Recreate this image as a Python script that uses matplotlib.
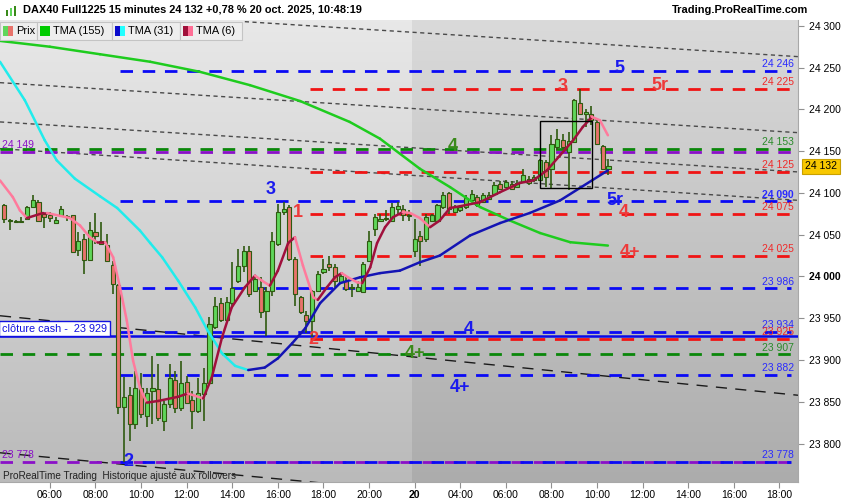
import numpy as np
import matplotlib.pyplot as plt
from matplotlib.collections import LineCollection
from matplotlib.patches import Rectangle

plt.rcParams['font.family'] = ['Liberation Sans', 'DejaVu Sans']

# DAX40 Full1225, 15 min candles: Fri 17 oct 04:00 -> 21:45, then Mon 20 oct 02:00 -> 10:30
opens = [24085, 24066, 24065, 24066, 24069, 24083, 24089, 24075, 24073, 24064,
         24073, 24072, 24073, 24032, 24045, 24020, 24053, 24042, 24038, 24014,
         23990, 23844, 23858, 23823, 23867, 23833, 23863, 23865, 23827, 23847,
         23876, 23843, 23874, 23852, 23839, 23859, 23872, 23940, 23968, 23948,
         23968, 23994, 24013, 24030, 23983, 23987, 23959, 23983, 24039, 24077,
         24083, 24021, 23975, 23954, 23947, 23983, 24005, 24015, 24011, 23993,
         23995, 23987, 23983, 23982, 24019, 24057, 24067, 24069, 24067, 24081,
         24081, 24073, 24031, 24049, 24045, 24067, 24067, 24083, 24100, 24077,
         24079, 24083, 24091, 24095, 24089, 24093, 24099, 24111, 24107, 24111,
         24107, 24113, 24117, 24115, 24115, 24137, 24129, 24155, 24163, 24149,
         24161, 24208, 24194, 24195, 24185, 24156, 24129]
highs = [24087, 24069, 24068, 24071, 24084, 24097, 24091, 24076, 24077, 24071,
         24084, 24074, 24074, 24053, 24051, 24065, 24076, 24065, 24051, 24019,
         23991, 23880, 23868, 23887, 23885, 23867, 23905, 23895, 23851, 23895,
         23887, 23899, 23881, 23863, 23879, 23891, 23951, 23976, 23974, 23975,
         24017, 24033, 24037, 24037, 23999, 23999, 23987, 24053, 24087, 24089,
         24085, 24023, 23977, 23959, 23984, 24007, 24021, 24024, 24015, 24003,
         23999, 23991, 23995, 24017, 24055, 24075, 24075, 24079, 24088, 24089,
         24085, 24079, 24069, 24055, 24075, 24075, 24087, 24101, 24101, 24085,
         24086, 24097, 24103, 24098, 24100, 24101, 24113, 24114, 24115, 24114,
         24115, 24129, 24120, 24121, 24141, 24139, 24169, 24177, 24171, 24173,
         24213, 24225, 24201, 24204, 24187, 24157, 24141]
lows = [24064, 24056, 24064, 24064, 24068, 24082, 24065, 24058, 24065, 24063,
        24072, 24067, 24028, 24025, 24003, 24019, 24039, 24038, 24017, 23979,
        23835, 23778, 23803, 23817, 23831, 23820, 23823, 23827, 23815, 23843,
        23837, 23839, 23847, 23817, 23837, 23827, 23871, 23937, 23945, 23945,
        23965, 23992, 24005, 23975, 23981, 23950, 23929, 23977, 24037, 24073,
        24019, 23965, 23955, 23932, 23927, 23982, 24003, 24007, 23987, 23991,
        23983, 23975, 23981, 23981, 24017, 24049, 24065, 24067, 24065, 24073,
        24067, 24067, 24023, 24013, 24041, 24065, 24065, 24081, 24075, 24076,
        24077, 24081, 24090, 24083, 24088, 24092, 24097, 24103, 24106, 24103,
        24106, 24112, 24110, 24113, 24114, 24107, 24106, 24151, 24153, 24103,
        24160, 24193, 24179, 24181, 24157, 24128, 24121]
closes = [24069, 24068, 24066, 24065, 24083, 24091, 24067, 24071, 24070, 24068,
          24081, 24071, 24029, 24043, 24020, 24056, 24049, 24039, 24018, 23991,
          23844, 23856, 23824, 23866, 23835, 23861, 23866, 23831, 23847, 23879,
          23843, 23873, 23849, 23839, 23861, 23872, 23943, 23965, 23948, 23969,
          23986, 24012, 24030, 23979, 23997, 23957, 23983, 24043, 24077, 24081,
          24021, 23979, 23957, 23947, 23983, 24003, 24009, 24011, 23995, 24000,
          23985, 23986, 23988, 24015, 24042, 24071, 24069, 24070, 24083, 24084,
          24073, 24072, 24045, 24043, 24071, 24073, 24085, 24098, 24081, 24083,
          24083, 24094, 24099, 24085, 24097, 24097, 24109, 24105, 24113, 24105,
          24112, 24121, 24112, 24119, 24140, 24119, 24158, 24164, 24155, 24162,
          24211, 24195, 24197, 24187, 24159, 24129, 24132]

# moving averages (candle index, price)
ma155_x = [-0.75, 8.0, 16.8, 25.6, 34.3, 43.1, 51.9, 60.6, 65.9, 72.9, 78.2, 83.5, 88.7, 94.0, 99.3, 105.9]
ma155_y = [24282, 24275, 24266, 24257, 24245, 24229, 24210, 24185, 24165, 24129, 24107, 24083, 24067, 24052, 24041, 24037]

ma31_x = [-0.75, 3.6, 7.1, 9.2, 12.4, 16.8, 19.8, 23.8, 25.6, 27.7, 30.5, 33.5, 35.7, 38.2, 40.5, 42.8,
          45.7, 48.0, 50.5, 52.8, 55.4, 58.9, 62.4, 65.9, 69.4, 72.9, 76.4, 81.7, 87.0, 92.2, 97.5, 101.0, 105.9]
ma31_y = [24257, 24211, 24163, 24139, 24117, 24096, 24082, 24055, 24040, 24023, 23995, 23963, 23935, 23908, 23893, 23888,
          23891, 23902, 23920, 23938, 23968, 23992, 23999, 24004, 24007, 24017, 24025, 24049, 24064, 24076, 24091, 24106, 24127]

ma6_x = [-0.75, 1.5, 2.75, 4.0, 6.8, 7.5, 11.5, 13.3, 15.0, 16.3, 17.7, 19.1, 20.3, 21.5, 22.6, 23.8,
         25.0, 27.0, 30.5, 32.2, 34.9, 36.4, 38.2, 39.9, 42.2, 44.0, 45.2, 46.6, 48.0, 49.8, 51.0,
         52.4, 54.2, 55.0, 56.6, 58.0, 59.2, 60.3, 61.9, 62.8, 64.2, 65.4, 66.8, 68.2, 69.9, 71.2,
         72.9, 74.7, 76.4, 78.2, 79.9, 83.5, 87.0, 90.5, 92.8, 95.2, 97.5, 99.8, 101.5, 103.1, 104.5, 105.9]
ma6_y = [24115, 24095, 24079, 24070, 24076, 24076, 24070, 24061, 24047, 24041, 24041, 24023, 23987, 23947, 23899, 23867,
         23849, 23851, 23856, 23860, 23854, 23879, 23927, 23963, 23987, 24001, 23995, 23989, 24007, 24040, 24047,
         24013, 23975, 23972, 23987, 23999, 24004, 23999, 23993, 23992, 24011, 24040, 24059, 24071, 24077, 24076,
         24070, 24059, 24067, 24082, 24084, 24089, 24101, 24112, 24115, 24127, 24145, 24163, 24179, 24191, 24187, 24169]

# horizontal levels: b=blue, r=red, g=green, p=purple
level_prices = [24246, 24225, 24153, 24149, 24125, 24090, 24075, 24025, 23986, 23934, 23925, 23907, 23882, 23778, 23778]
level_kind = ['b', 'r', 'g', 'p', 'r', 'b', 'r', 'r', 'b', 'b', 'r', 'g', 'b', 'p', 'b']
cash_close = 23929

# wave labels
mark_text = ["5", "3", "5r", "4", "3", "5r", "1", "4", "4+", "4", "2", "4+", "4+", "2"]
mark_x = [108.0, 98.0, 115.0, 78.7, 46.8, 107.1, 51.5, 108.7, 109.8, 81.5, 54.2, 72.1, 80.0, 21.7]
mark_y = [24249, 24227, 24228, 24156, 24104, 24091, 24076, 24076, 24029, 23936, 23924, 23908, 23867, 23779]
mark_kind = ['b', 'r', 'r', 'g', 'b', 'b', 'r', 'r', 'r', 'b', 'r', 'g', 'b', 'b']

# trend lines ((x0, p0), (x1, p1))
short_trends = [((42.2, 24305), (139.6, 24263)), ((-0.75, 24232), (139.6, 24172)),
                ((-0.75, 24185), (139.6, 24125)), ((-0.75, 24153), (139.6, 24091))]
long_trends = [((-0.75, 23953), (140.5, 23857)), ((-0.75, 23789), (55.4, 23753))]

fri_hours = [6, 8, 10, 12, 14, 16, 18, 20]
mon_hours = [4, 6, 8, 10, 12, 14, 16, 18]

W, H = 850, 500
fig = plt.figure(figsize=(W / 100, H / 100), dpi=100)
ax = fig.add_axes([0, 18 / H, 798 / W, 462 / H])
x0, x1 = -0.75, 139.25
y0, y1 = 23754, 24307


def shade(xa, xb, top, bot):
    t = np.linspace(0, 1, 200)[:, None, None]
    img = np.array(top)[None, None, :] * (1 - t) + np.array(bot)[None, None, :] * t
    ax.imshow(img, extent=[xa, xb, y0, y1], aspect='auto', zorder=0, interpolation='bilinear')


shade(x0, 71.5, (0.91, 0.91, 0.91), (0.73, 0.73, 0.73))
shade(71.5, x1, (0.855, 0.855, 0.855), (0.675, 0.675, 0.675))

# trend lines
for (xa, pa), (xb, pb) in short_trends:
    ax.plot([xa, xb], [pa, pb], color='#4a4a4a', lw=1.0, dashes=(3, 2.5), zorder=2)
for (xa, pa), (xb, pb) in long_trends:
    ax.plot([xa, xb], [pa, pb], color='#1a1a1a', lw=1.0, dashes=(8, 6), zorder=2)

# levels
line_col = {'b': '#0a0af5', 'r': '#f01414', 'g': '#0a870a', 'p': '#8a10c8'}
text_col = {'b': '#2a2aff', 'r': '#f02a2a', 'g': '#2a8a2a', 'p': '#8a10c8'}
start = {'b': 20.3, 'r': 53.6, 'g': x0, 'p': x0}
for p, k in zip(level_prices, level_kind):
    ax.plot([start[k], 138.0], [p, p], color=line_col[k], lw=2, dashes=(4.5, 3.5), zorder=3)
    lab = f"{p:,}".replace(',', ' ')
    if k == 'p':
        ax.text(x0 + 0.3, p + 2, lab, color=text_col[k], fontsize=7.5, ha='left', va='bottom', zorder=7)
    else:
        ax.text(138.5, p + 2, lab, color=text_col[k], fontsize=7.5, ha='right', va='bottom', zorder=7,
                fontweight='bold' if p == 24090 else 'normal')

ax.axhline(cash_close, color='#0a0ae6', lw=1.8, zorder=3)
ax.text(x0 + 0.35, cash_close + 2.5, "clôture cash -  " + f"{cash_close:,}".replace(',', ' '),
        color='#1010e0', fontsize=7.8, ha='left', va='bottom', zorder=8,
        bbox=dict(boxstyle='square,pad=0.25', fc='white', ec='#1010e0', lw=1))

# candles
idx = np.arange(len(closes))
o, hi, lo, c = map(np.array, (opens, highs, lows, closes))
up = c >= o
ax.vlines(idx, lo, hi, color='#2f5a10', lw=1.2, zorder=4)
ax.bar(idx, np.where(np.abs(c - o) < 1, 1, c - o), bottom=o, width=0.72,
       color=np.where(up, '#5fd65a', '#e8736b'), edgecolor='#2f5a10', linewidth=0.8, zorder=5)


def ma_line(xs, ys, up_col, down_col, lw):
    pts = np.column_stack([xs, ys])
    segs = np.stack([pts[:-1], pts[1:]], axis=1)
    cols = [up_col if b >= a else down_col for a, b in zip(ys[:-1], ys[1:])]
    ax.add_collection(LineCollection(segs, colors=cols, linewidths=lw, capstyle='round', zorder=6))


ma_line(ma155_x, ma155_y, '#1ecc1e', '#1ecc1e', 1.8)
ma_line(ma31_x, ma31_y, '#1414b4', '#20ecec', 1.8)
ma_line(ma6_x, ma6_y, '#a0103c', '#ff7a9c', 1.8)

ax.add_patch(Rectangle((94.0, 24106), 9.1, 80, fill=False, edgecolor='black', lw=1.0, zorder=6))

for s, mx, my, k in zip(mark_text, mark_x, mark_y, mark_kind):
    col = {'b': '#1a1aee', 'r': '#ee3a3a', 'g': '#3a8a1a'}[k]
    ax.text(mx, my, s, color=col, fontsize=13, fontweight='bold', ha='center', va='center', zorder=9)

# axes
ax.set_xlim(x0, x1)
ax.set_ylim(y0, y1)
ax.yaxis.tick_right()
yt = list(range(23800, 24301, 50))
ax.set_yticks(yt)
ax.set_yticklabels([f"{v:,}".replace(',', ' ') for v in yt], fontsize=7.5)
for t in ax.get_yticklabels():
    if t.get_text() == '24 000':
        t.set_fontweight('bold')
ax.tick_params(axis='y', length=4, color='#909090', pad=4, labelright=True, labelleft=False)

tick_pos = [(h - 4) * 4 for h in fri_hours] + [72] + [72 + (h - 2) * 4 for h in mon_hours]
tick_lab = [f"{h:02d}:00" for h in fri_hours] + ["20"] + [f"{h:02d}:00" for h in mon_hours]
ax.set_xticks(tick_pos)
ax.set_xticklabels(tick_lab, fontsize=7.5)
for t in ax.get_xticklabels():
    if t.get_text() == '20':
        t.set_fontweight('bold')
ax.tick_params(axis='x', length=4, color='#909090', pad=2)
for side in ['top', 'left']:
    ax.spines[side].set_visible(False)
for side in ['right', 'bottom']:
    ax.spines[side].set_color('#a8a8a8')
    ax.spines[side].set_linewidth(0.8)

last = closes[-1]
ax.annotate(f"{last:,}".replace(',', ' '), xy=(1, last), xycoords=('axes fraction', 'data'),
            xytext=(5, 0), textcoords='offset points', ha='left', va='center', fontsize=7.5,
            bbox=dict(boxstyle='square,pad=0.25', fc='#f8c800', ec='#c8a000', lw=0.8),
            annotation_clip=False)


# header and legend, in figure pixels
def fx(x):
    return x / W


def fy(y):
    return 1 - y / H


fig.text(fx(23), fy(10), "DAX40 Full1225 15 minutes 24 132 +0,78 % 20 oct. 2025, 10:48:19",
         fontsize=7.9, fontweight='bold', va='center', ha='left')
fig.text(fx(808), fy(10), "Trading.ProRealTime.com", fontsize=7.9, fontweight='bold', va='center', ha='right')
for bx, bh, bc in [(6, 6, '#3a8a1a'), (10, 8, '#5fd65a'), (14, 10, '#3a8a1a')]:
    fig.patches.append(Rectangle((fx(bx), fy(16)), 2 / W, bh / H, transform=fig.transFigure,
                                 fc=bc, ec='none'))

legend_items = [("Prix", ['#5fd65a', '#e8736b'], 0, 37),
                ("TMA (155)", ['#00cc00'], 37, 112),
                ("TMA (31)", ['#0a0acc', '#22ffff'], 112, 180),
                ("TMA (6)", ['#a0103a', '#ff6f96'], 180, 242)]
for name, cols, xa, xb in legend_items:
    fig.patches.append(Rectangle((fx(xa), fy(40)), (xb - xa) / W, 18 / H, transform=fig.transFigure,
                                 fc='#eeeeee', ec='#c4c4c4', lw=0.8))
    sw = 10 / len(cols)
    for j, cc in enumerate(cols):
        fig.patches.append(Rectangle((fx(xa + 3 + j * sw), fy(36)), sw / W, 10 / H,
                                     transform=fig.transFigure, fc=cc, ec='none'))
    fig.text(fx(xa + 16), fy(31), name, fontsize=7.9, va='center', ha='left')

fig.text(fx(3), fy(476), "ProRealTime Trading  Historique ajusté aux rollovers", fontsize=7.2,
         va='center', ha='left', color='#222222')

fig.savefig("out.png", dpi=100)
